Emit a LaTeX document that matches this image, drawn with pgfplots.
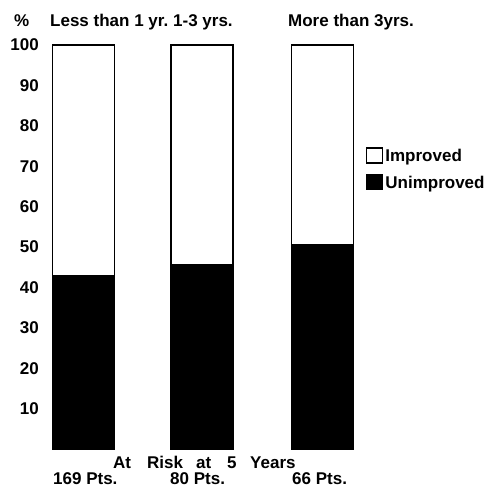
\documentclass[border=0pt]{standalone}
\usepackage{pgfplots}
\pgfplotsset{compat=1.18}
\usepackage{fontspec}
\setmainfont{Liberation Sans}
\newcommand\lf{\fontsize{17}{19}\selectfont\bfseries}
\tikzset{lab/.style={font=\lf, inner sep=0pt, anchor=base west}}
\begin{document}
\begin{tikzpicture}
\path[use as bounding box] (0,0) rectangle (496pt,488pt);
\begin{axis}[
  at={(40pt,39pt)}, anchor=south west,
  scale only axis, width=340pt, height=404pt,
  xmin=40, xmax=380, ymin=0, ymax=100,
  axis line style={draw=none},
  ytick={10,20,...,100}, xtick=\empty,
  major tick length=0pt,
  /pgf/number format/assume math mode=true,
  yticklabel style={font=\lf, inner sep=1pt},
  ybar stacked, bar width=62pt,
  clip=false,
  legend style={draw=none, fill=none, at={(axis cs:366,74.8)}, anchor=north west,
    font=\lf, row sep=9pt, inner sep=0pt},
  legend cell align=left,
  legend image code/.code={\draw[line width=1.2pt,#1] (0pt,-7pt) rectangle (16pt,8pt);},
]
\addlegendimage{fill=white, draw=black}
\addlegendentry{Improved}
\addlegendimage{fill=black, draw=black}
\addlegendentry{Unimproved}
\addplot[fill=black, draw=black, line width=1.5pt] coordinates {(83.5,42.8) (202,45.5) (322.5,50.5)};
\addplot[fill=white, draw=black, line width=1.5pt] coordinates {(83.5,57.2) (202,54.5) (322.5,49.5)};
\node[lab] at (axis cs:14,104.5) {\%};
\node[lab] at (axis cs:50,104.5) {Less than 1 yr.};
\node[lab] at (axis cs:173,104.5) {1-3 yrs.};
\node[lab] at (axis cs:288,104.5) {More than 3yrs.};
\node[lab] at (axis cs:113,-4.9) {At};
\node[lab] at (axis cs:147,-4.9) {Risk};
\node[lab] at (axis cs:196,-4.9) {at};
\node[lab] at (axis cs:227,-4.9) {5};
\node[lab] at (axis cs:250,-4.9) {Years};
\node[lab] at (axis cs:53,-8.9) {169 Pts.};
\node[lab] at (axis cs:170,-8.9) {80 Pts.};
\node[lab] at (axis cs:292,-8.9) {66 Pts.};
\end{axis}
\end{tikzpicture}
\end{document}
